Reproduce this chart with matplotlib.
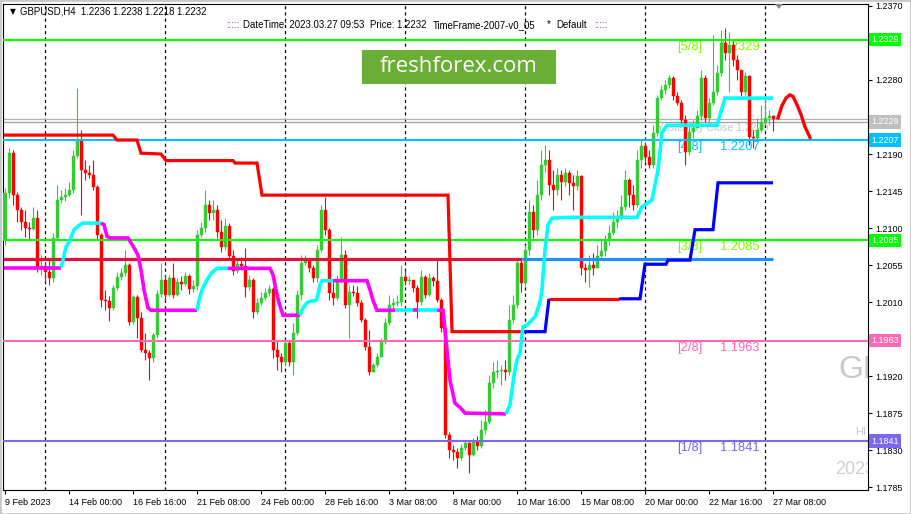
import matplotlib
matplotlib.use("Agg")
import matplotlib.pyplot as plt
from matplotlib.patches import Rectangle, Polygon
from matplotlib.transforms import blended_transform_factory
import numpy as np

plt.rcParams['font.family'] = ['Liberation Sans', 'DejaVu Sans']

W, H = 911, 514

# H4 bars, 9 Feb 2023 08:00 .. 27 Mar 2023 08:00 (bar index 0..192)
first_open = 1.2085
closes = [
    1.2143, 1.2191, 1.2140, 1.2122, 1.2107, 1.2100, 1.2099, 1.2112, 1.2051, 1.2054,
    1.2046, 1.2039, 1.2088, 1.2134, 1.2138, 1.2140, 1.2146, 1.2188, 1.2207, 1.2171,
    1.2167, 1.2165, 1.2150, 1.2092, 1.2012, 1.2011, 1.2003, 1.2027, 1.2041, 1.2045,
    1.2055, 1.1986, 1.2016, 1.1991, 1.1952, 1.1948, 1.1942, 1.1970, 1.2020, 1.2037,
    1.2019, 1.2039, 1.2019, 1.2035, 1.2032, 1.2042, 1.2026, 1.2030, 1.2092, 1.2100,
    1.2128, 1.2118, 1.2122, 1.2095, 1.2077, 1.2103, 1.2066, 1.2048, 1.2056, 1.2054,
    1.2028, 1.2037, 1.1998, 1.2009, 1.2015, 1.2021, 1.2026, 1.1952, 1.1943, 1.1937,
    1.1960, 1.1937, 1.1972, 1.2019, 1.2058, 1.2061, 1.2051, 1.2039, 1.2073, 1.2122,
    1.2098, 1.2021, 1.2015, 1.2037, 1.2067, 1.2006, 1.2022, 1.2021, 1.2009, 1.1988,
    1.1955, 1.1925, 1.1934, 1.1943, 1.1961, 1.1985, 1.2006, 1.2009, 1.2010, 1.2041,
    1.2036, 1.2037, 1.2027, 1.2010, 1.2041, 1.2019, 1.2039, 1.2036, 1.2012, 1.1978,
    1.1848, 1.1830, 1.1828, 1.1821, 1.1833, 1.1839, 1.1824, 1.1840, 1.1835, 1.1854,
    1.1864, 1.1912, 1.1925, 1.1926, 1.1927, 1.1925, 1.1988, 1.2006, 1.2058, 1.2033,
    1.2073, 1.2120, 1.2098, 1.2140, 1.2177, 1.2183, 1.2152, 1.2146, 1.2165, 1.2156,
    1.2167, 1.2155, 1.2151, 1.2163, 1.2051, 1.2049, 1.2055, 1.2051, 1.2066, 1.2072,
    1.2084, 1.2094, 1.2107, 1.2112, 1.2126, 1.2158, 1.2140, 1.2128, 1.2183, 1.2200,
    1.2186, 1.2177, 1.2216, 1.2258, 1.2268, 1.2274, 1.2283, 1.2261, 1.2252, 1.2231,
    1.2193, 1.2217, 1.2222, 1.2236, 1.2283, 1.2234, 1.2252, 1.2265, 1.2289, 1.2325,
    1.2313, 1.2323, 1.2304, 1.2292, 1.2265, 1.2285, 1.2211, 1.2210, 1.2219, 1.2229,
    1.2234, 1.2236, 1.2232,
]
highs = [
    1.2149, 1.2197, 1.2195, 1.2144, 1.2125, 1.2122, 1.2107, 1.2126, 1.2122, 1.2067,
    1.2058, 1.2064, 1.2094, 1.2152, 1.2146, 1.2149, 1.2156, 1.2195, 1.2270, 1.2219,
    1.2183, 1.2177, 1.2183, 1.2152, 1.2094, 1.2025, 1.2017, 1.2031, 1.2046, 1.2051,
    1.2073, 1.2058, 1.2019, 1.2019, 1.1998, 1.1972, 1.1952, 1.1972, 1.2025, 1.2057,
    1.2043, 1.2043, 1.2057, 1.2039, 1.2042, 1.2046, 1.2044, 1.2037, 1.2098, 1.2107,
    1.2146, 1.2134, 1.2134, 1.2128, 1.2110, 1.2112, 1.2106, 1.2073, 1.2064, 1.2065,
    1.2076, 1.2043, 1.2039, 1.2015, 1.2022, 1.2027, 1.2031, 1.2028, 1.1964, 1.1948,
    1.1964, 1.1964, 1.1985, 1.2025, 1.2067, 1.2067, 1.2064, 1.2055, 1.2079, 1.2128,
    1.2138, 1.2100, 1.2035, 1.2043, 1.2089, 1.2073, 1.2031, 1.2031, 1.2030, 1.2012,
    1.1991, 1.1976, 1.1936, 1.1948, 1.1966, 1.1991, 1.2019, 1.2015, 1.2019, 1.2055,
    1.2049, 1.2042, 1.2037, 1.2031, 1.2049, 1.2043, 1.2045, 1.2042, 1.2061, 1.2015,
    1.1981, 1.1852, 1.1836, 1.1833, 1.1837, 1.1842, 1.1840, 1.1845, 1.1847, 1.1867,
    1.1879, 1.1921, 1.1937, 1.1940, 1.1934, 1.1940, 1.2006, 1.2019, 1.2064, 1.2064,
    1.2079, 1.2134, 1.2128, 1.2158, 1.2195, 1.2201, 1.2195, 1.2171, 1.2173, 1.2171,
    1.2173, 1.2171, 1.2165, 1.2171, 1.2165, 1.2058, 1.2067, 1.2070, 1.2079, 1.2085,
    1.2092, 1.2104, 1.2120, 1.2122, 1.2140, 1.2171, 1.2161, 1.2152, 1.2195, 1.2207,
    1.2205, 1.2195, 1.2225, 1.2262, 1.2274, 1.2280, 1.2286, 1.2285, 1.2265, 1.2256,
    1.2238, 1.2225, 1.2231, 1.2244, 1.2292, 1.2286, 1.2258, 1.2335, 1.2298, 1.2341,
    1.2343, 1.2338, 1.2327, 1.2310, 1.2292, 1.2290, 1.2286, 1.2219, 1.2234, 1.2250,
    1.2258, 1.2244, 1.2238,
]
lows = [
    1.2079, 1.2137, 1.2128, 1.2107, 1.2098, 1.2089, 1.2085, 1.2098, 1.2046, 1.2043,
    1.2035, 1.2031, 1.2035, 1.2085, 1.2131, 1.2133, 1.2139, 1.2143, 1.2185, 1.2116,
    1.2158, 1.2161, 1.2146, 1.2085, 1.2004, 1.2000, 1.1987, 1.2000, 1.2025, 1.2037,
    1.2042, 1.1982, 1.1983, 1.1966, 1.1949, 1.1940, 1.1915, 1.1937, 1.1966, 1.2016,
    1.2012, 1.2017, 1.2015, 1.2017, 1.2025, 1.2030, 1.2020, 1.2022, 1.2025, 1.2089,
    1.2095, 1.2110, 1.2110, 1.2088, 1.2071, 1.2073, 1.2061, 1.2043, 1.2045, 1.2049,
    1.2016, 1.2025, 1.1991, 1.1996, 1.2006, 1.2012, 1.2017, 1.1942, 1.1927, 1.1925,
    1.1932, 1.1932, 1.1921, 1.1970, 1.2012, 1.2055, 1.2046, 1.2035, 1.2035, 1.2071,
    1.2092, 1.2012, 1.2006, 1.2012, 1.2033, 1.2003, 1.1966, 1.2017, 1.2005, 1.1986,
    1.1952, 1.1921, 1.1925, 1.1931, 1.1943, 1.1959, 1.1982, 1.1998, 1.2005, 1.2005,
    1.2031, 1.2032, 1.2022, 1.1991, 1.2006, 1.2015, 1.2017, 1.2030, 1.2010, 1.1974,
    1.1845, 1.1821, 1.1818, 1.1808, 1.1818, 1.1830, 1.1802, 1.1823, 1.1830, 1.1833,
    1.1850, 1.1862, 1.1905, 1.1918, 1.1909, 1.1915, 1.1921, 1.1985, 1.2003, 1.2022,
    1.2030, 1.2067, 1.2088, 1.2092, 1.2134, 1.2168, 1.2140, 1.2122, 1.2140, 1.2134,
    1.2151, 1.2140, 1.2122, 1.2146, 1.2043, 1.2035, 1.2028, 1.2043, 1.2051, 1.2061,
    1.2066, 1.2079, 1.2092, 1.2100, 1.2110, 1.2122, 1.2126, 1.2122, 1.2125, 1.2173,
    1.2180, 1.2173, 1.2173, 1.2212, 1.2256, 1.2263, 1.2270, 1.2256, 1.2249, 1.2225,
    1.2177, 1.2189, 1.2210, 1.2225, 1.2231, 1.2229, 1.2229, 1.2249, 1.2262, 1.2285,
    1.2304, 1.2265, 1.2297, 1.2280, 1.2261, 1.2262, 1.2201, 1.2197, 1.2207, 1.2217,
    1.2225, 1.2225, 1.2218,
]

# slow trailing line (red = down, blue = up), vertices in bar units
slow_k = [-0.25, 27, 28, 33, 34, 39, 40.25, 57, 57.5, 63, 64.25, 110.75, 111.75,
          129.25, 135, 136, 153.5, 158.75, 160, 165.25, 165.75, 171.25, 172.5,
          177, 178.25, 192]
slow_p = [1.2213, 1.2213, 1.2207, 1.2207, 1.2191, 1.2190, 1.2182, 1.2182, 1.2179,
          1.2179, 1.2140, 1.2140, 1.1974, 1.1974, 1.1974, 1.2014, 1.2014, 1.2014,
          1.2056, 1.2056, 1.2061, 1.2061, 1.2098, 1.2098, 1.2155, 1.2155]
slow_up = [0] * 13 + [1, 1] + [0] + [1] * 9

# fast trailing line (magenta = down, cyan = up)
fast_k = [-0.25, 14, 14.5, 15.25, 16.25, 17.25, 18.75, 19.5, 24, 24.75,
          25.5, 26.25, 30.75, 31.5, 32.25, 33.25, 34, 34.75, 35.75, 36.5,
          48, 48.5, 49.25, 50.5, 51.75, 53, 55.75, 66.25, 67, 67.75,
          68.5, 69.5, 73.75, 74.5, 75.5, 76.25, 77.75, 78.25, 78.75, 79.25,
          82, 90.5, 91.25, 92, 93, 97.5, 102, 103.25, 108, 109.5,
          110.5, 111.25, 112.5, 113.75, 115, 125.25, 126.25, 126.75, 127.25, 128,
          128.75, 129.5, 130.5, 131.25, 132.5, 133.75, 134.25, 135, 135.75, 136.75,
          141.25, 158, 159.25, 161.75, 163.25, 164.25, 165.5, 178, 180, 192]
fast_p = [1.2052, 1.2052, 1.2061, 1.2077, 1.2085, 1.2098, 1.2104, 1.2106, 1.2106, 1.2104,
          1.2090, 1.2088, 1.2088, 1.2082, 1.2076, 1.2067, 1.2049, 1.2025, 1.2003, 1.2000,
          1.2000, 1.2012, 1.2025, 1.2037, 1.2046, 1.2051, 1.2051, 1.2051, 1.2043, 1.2025,
          1.2009, 1.1994, 1.1994, 1.2003, 1.2009, 1.2011, 1.2012, 1.2019, 1.2031, 1.2036,
          1.2036, 1.2036, 1.2025, 1.2012, 1.2000, 1.2000, 1.2000, 1.2000, 1.2000, 1.2000,
          1.1952, 1.1915, 1.1887, 1.1882, 1.1875, 1.1874, 1.1885, 1.1903, 1.1921, 1.1940,
          1.1948, 1.1980, 1.1982, 1.1986, 1.1992, 1.2010, 1.2025, 1.2073, 1.2104, 1.2112,
          1.2113, 1.2113, 1.2126, 1.2134, 1.2171, 1.2216, 1.2225, 1.2225, 1.2258, 1.2258]
fast_up = ([0] + [1] * 7 + [0] * 12 + [1] * 6 + [0] * 6 + [1] * 8 + [0] * 5
           + [1, 0, 1] + [0] * 7 + [1] * 24)

# flat level line, crimson then dodger blue
mid_level = 1.2062
mid_k = [-0.5, 129.25, 192]
mid_up = [0, 1]

# Murrey math levels
mm_levels = [1.2329, 1.2207, 1.2085, 1.1963, 1.1841]
mm_names = ['[5/8]', '[4/8]', '[3/8]', '[2/8]', '[1/8]']
yesterday_close = 1.2229
bid = 1.2232

# projection arc
arc_k = [193.25, 194.25, 195.25, 196.25, 197, 198, 199, 200, 201.25]
arc_p = [1.2234, 1.2249, 1.2258, 1.2262, 1.2260, 1.2250, 1.2238, 1.2223, 1.2210]

xtick_pos = [0, 16, 32, 48, 64, 80, 96, 112, 128, 144, 160, 176, 192]
xtick_lab = ['9 Feb 2023', '14 Feb 00:00', '16 Feb 16:00', '21 Feb 08:00',
             '24 Feb 00:00', '28 Feb 16:00', '3 Mar 08:00', '8 Mar 00:00',
             '10 Mar 16:00', '15 Mar 08:00', '20 Mar 00:00', '22 Mar 16:00',
             '27 Mar 08:00']
week_starts = [10, 40, 70, 100, 130, 160, 190]
yticks = [1.2370, 1.2325, 1.2280, 1.2235, 1.2190, 1.2145, 1.2100, 1.2055,
          1.2010, 1.1965, 1.1920, 1.1875, 1.1830, 1.1785]
hidden_yticks = [1.2325, 1.2235, 1.1965]   # covered by the price boxes

# colours
UP, DOWN = '#32CD32', '#FF0000'
mm_colors = ['#00FF00', '#00BFFF', '#00FF00', '#FF69B4', '#7B68EE']
mm_text_colors = ['#7CFC00', '#00BFFF', '#7CFC00', '#FF69B4', '#7B68EE']

fig = plt.figure(figsize=(W / 100, H / 100), dpi=100)
fig.patch.set_facecolor('white')
ax = fig.add_axes([3 / W, 1 - 490 / H, 865 / W, 486 / H])
ax.set_xlim(-0.5, 215.75)
ax.set_ylim(1.17815, 1.23724)

# candles
c = np.array(closes)
o = np.r_[first_open, c[:-1]]
hi = np.array(highs)
lo = np.array(lows)
k = np.arange(len(c))
cols = np.where(c >= o, UP, DOWN)
ax.vlines(k, lo, hi, colors=cols, lw=0.8, zorder=3)
body = np.maximum(np.abs(c - o), 0.00005)
ax.bar(k, body, bottom=np.minimum(o, c), width=0.75, color=cols,
       edgecolor=cols, linewidth=0.3, zorder=3)

# week separators
for ws in week_starts:
    ax.axvline(ws, color='black', lw=0.9, dashes=(2.5, 2.5), zorder=2)

# horizontal levels
for lvl, lc in zip(mm_levels, mm_colors):
    ax.axhline(lvl, color=lc, lw=1.5, zorder=5)
ax.axhline(yesterday_close, color='#A0A0A0', lw=0.9, zorder=2)
ax.axhline(bid, color='#B0B0B0', lw=0.9, zorder=2)

for lvl, name, tc in zip(mm_levels, mm_names, mm_text_colors):
    ax.text(171.25, lvl - 0.00085, name, color=tc, fontsize=9.3,
            ha='center', va='center', zorder=1)
    ax.text(183.75, lvl - 0.00085, f'{lvl:.4f}', color=tc, fontsize=9.3,
            ha='center', va='center', zorder=1)
ax.text(177, yesterday_close - 0.0007, f'Yesterday Close {yesterday_close:.4f}',
        color='#C4C4C4', fontsize=7.6, ha='center', va='center', zorder=1)

# flat level line
for i, up in enumerate(mid_up):
    ax.plot(mid_k[i:i + 2], [mid_level, mid_level],
            color='#1E90FF' if up else '#DC143C', lw=2.3, zorder=5,
            solid_capstyle='butt')


def draw_trail(ks, ps, flags, c_up, c_dn, lw):
    start = 0
    for i in range(1, len(flags) + 1):
        if i == len(flags) or flags[i] != flags[start]:
            ax.plot(ks[start:i + 1], ps[start:i + 1],
                    color=c_up if flags[start] else c_dn, lw=lw, zorder=6,
                    solid_capstyle='butt', solid_joinstyle='miter')
            start = i


draw_trail(slow_k, slow_p, slow_up, '#0000FF', '#FF0000', 2.3)
draw_trail(fast_k, fast_p, fast_up, '#00FFFF', '#FF00FF', 2.6)

ax.plot(arc_k, arc_p, color='#FF0000', lw=2.4, zorder=6)

# watermark pieces, cut by the plot frame as in the terminal
ax.text(208.25, 1.1927, 'GB', color='#C8C8C8', fontsize=23,
        ha='left', va='center', zorder=1, clip_on=True)
ax.text(212.6, 1.1852, 'HI', color='#C8C8C8', fontsize=8,
        ha='left', va='center', zorder=1, clip_on=True)
ax.text(207.5, 1.1807, '2023', color='#D0D0D0', fontsize=13,
        ha='left', va='center', zorder=1, clip_on=True)

# axes styling
for s in ax.spines.values():
    s.set_linewidth(0.8)
    s.set_color('black')
ax.yaxis.tick_right()
ax.set_yticks(yticks)
ax.set_yticklabels(['' if t in hidden_yticks else f'{t:.4f}' for t in yticks])
ax.tick_params(axis='y', length=3, width=0.8, labelsize=6.5, pad=2)
ax.set_xticks(xtick_pos)
ax.set_xticklabels(xtick_lab, ha='left')
ax.tick_params(axis='x', length=3, width=0.8, labelsize=6.5, pad=3)

# price boxes on the right scale
tr = blended_transform_factory(ax.transAxes, ax.transData)
box_vals = [1.2329, yesterday_close, 1.2207, 1.2085, 1.1963, 1.1841]
box_cols = ['#00FF00', '#C0C0C0', '#00BFFF', '#00FF00', '#FF69B4', '#7B68EE']
for v, bc in zip(box_vals, box_cols):
    ax.text(1 + 3 / 865, v, f'{v:.4f}', transform=tr, color='white',
            fontsize=6.5, ha='left', va='center', clip_on=False, zorder=10,
            bbox=dict(boxstyle='square,pad=0.25', fc=bc, ec='none'))


def fx(x):
    return x / W


def fy(y):
    return 1 - y / H


# header texts
fig.text(fx(10), fy(12), '\u25BC', fontsize=5.5, va='center', ha='left',
         family='DejaVu Sans')
fig.text(fx(20), fy(12), 'GBPUSD,H4  1.2236 1.2238 1.2218 1.2232',
         fontsize=6.9, va='center', ha='left')
fig.text(fx(226), fy(25), ':::::', fontsize=6.9, va='center', ha='left',
         color='#800080')
fig.text(fx(243), fy(25), 'DateTime: 2023.03.27 09:53', fontsize=6.9,
         va='center', ha='left')
fig.text(fx(370), fy(25), 'Price: 1.2232', fontsize=6.9, va='center', ha='left')
fig.text(fx(433), fy(25), 'TimeFrame-2007-v0_05', fontsize=6.9, va='center',
         ha='left')
fig.text(fx(547), fy(24), '*', fontsize=6.9, va='center', ha='left')
fig.text(fx(556), fy(25), 'Default', fontsize=6.9, va='center', ha='left')
fig.text(fx(594), fy(25), ':::::', fontsize=6.9, va='center', ha='left',
         color='#800080')

# logo
fig.patches.append(Rectangle((fx(362), fy(84)), 194 / W, 34 / H,
                             transform=fig.transFigure, fc='#6AAE35',
                             ec='none', zorder=2))
fig.text(fx(459), fy(67), 'freshforex.com', fontsize=16, color='white',
         ha='center', va='center', family='Open Sans', zorder=3)

# chart shift marker
fig.patches.append(Polygon([(fx(775), fy(4)), (fx(783), fy(4)), (fx(779), fy(9))],
                           closed=True, transform=fig.transFigure,
                           fc='#8A8A8A', ec='none', zorder=3))

# window frame
fig.patches.append(Rectangle((0, 0), 1, 1, transform=fig.transFigure,
                             fill=False, ec='#C8C8C8', lw=2, zorder=4))

fig.savefig('out.png', dpi=100, facecolor='white')
